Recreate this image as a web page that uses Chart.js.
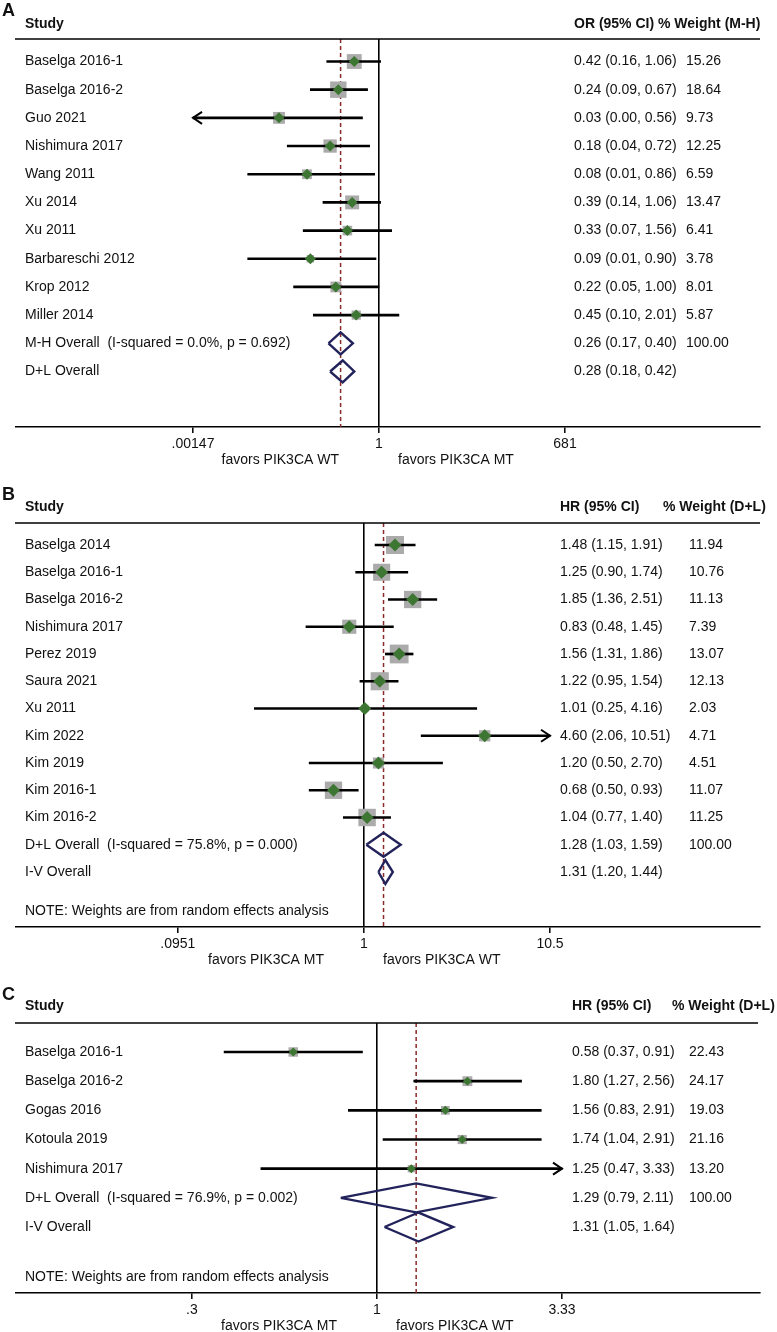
<!DOCTYPE html>
<html>
<head>
<meta charset="utf-8">
<script src="https://cdn.jsdelivr.net/npm/chart.js@4.4.1/dist/chart.umd.min.js"></script>
<style>
  html, body { margin: 0; padding: 0; background: #fff; }
  #wrap { position: relative; width: 777px; height: 1332px; overflow: hidden; }
  canvas { position: absolute; left: 0; }
</style>
</head>
<body>
<div id="wrap">
  <canvas id="chartA" width="777" height="470" style="top:0"></canvas>
  <canvas id="chartB" width="777" height="500" style="top:470px"></canvas>
  <canvas id="chartC" width="777" height="362" style="top:970px"></canvas>
</div>
<script>
// ---- Panel A: OR, PIK3CA MT vs WT ----
const studiesA = ['Baselga 2016-1', 'Baselga 2016-2', 'Guo 2021', 'Nishimura 2017', 'Wang 2011',
                  'Xu 2014', 'Xu 2011', 'Barbareschi 2012', 'Krop 2012', 'Miller 2014'];
const estA = [0.42, 0.24, 0.03, 0.18, 0.08, 0.39, 0.33, 0.09, 0.22, 0.45];
const lowA = [0.16, 0.09, 0.00, 0.04, 0.01, 0.14, 0.07, 0.01, 0.05, 0.10];
const highA = [1.06, 0.67, 0.56, 0.72, 0.86, 1.06, 1.56, 0.90, 1.00, 2.01];
const weightA = [15.26, 18.64, 9.73, 12.25, 6.59, 13.47, 6.41, 3.78, 8.01, 5.87];
const overallLabelsA = ['M-H Overall  (I-squared = 0.0%, p = 0.692)', 'D+L Overall'];
const overallEstA = [0.26, 0.28];
const overallLowA = [0.17, 0.18];
const overallHighA = [0.40, 0.42];
const overallWeightA = ['100.00', ''];
const ticksA = [0.00147, 1, 681];
const tickLabelsA = ['.00147', '1', '681'];

// ---- Panel B: HR ----
const studiesB = ['Baselga 2014', 'Baselga 2016-1', 'Baselga 2016-2', 'Nishimura 2017', 'Perez 2019',
                  'Saura 2021', 'Xu 2011', 'Kim 2022', 'Kim 2019', 'Kim 2016-1', 'Kim 2016-2'];
const estB = [1.48, 1.25, 1.85, 0.83, 1.56, 1.22, 1.01, 4.60, 1.20, 0.68, 1.04];
const lowB = [1.15, 0.90, 1.36, 0.48, 1.31, 0.95, 0.25, 2.06, 0.50, 0.50, 0.77];
const highB = [1.91, 1.74, 2.51, 1.45, 1.86, 1.54, 4.16, 10.51, 2.70, 0.93, 1.40];
const weightB = [11.94, 10.76, 11.13, 7.39, 13.07, 12.13, 2.03, 4.71, 4.51, 11.07, 11.25];
const overallLabelsB = ['D+L Overall  (I-squared = 75.8%, p = 0.000)', 'I-V Overall'];
const overallEstB = [1.28, 1.31];
const overallLowB = [1.03, 1.20];
const overallHighB = [1.59, 1.44];
const overallWeightB = ['100.00', ''];
const ticksB = [0.0951, 1, 10.5];
const tickLabelsB = ['.0951', '1', '10.5'];

// ---- Panel C: HR ----
const studiesC = ['Baselga 2016-1', 'Baselga 2016-2', 'Gogas 2016', 'Kotoula 2019', 'Nishimura 2017'];
const estC = [0.58, 1.80, 1.56, 1.74, 1.25];
const lowC = [0.37, 1.27, 0.83, 1.04, 0.47];
const highC = [0.91, 2.56, 2.91, 2.91, 3.33];
const weightC = [22.43, 24.17, 19.03, 21.16, 13.20];
const overallLabelsC = ['D+L Overall  (I-squared = 76.9%, p = 0.002)', 'I-V Overall'];
const overallEstC = [1.29, 1.31];
const overallLowC = [0.79, 1.05];
const overallHighC = [2.11, 1.64];
const overallWeightC = ['100.00', ''];
const ticksC = [0.3, 1, 3.33];
const tickLabelsC = ['.3', '1', '3.33'];

const FONT = "'Liberation Sans', Arial, Helvetica, sans-serif";
const GREEN = '#3d7632';
const GREY = '#ababab';
const NAVY = '#23235c';
const MAROON = '#8a2a2a';
const INK = '#111';
const AREA_L = 16, AREA_R = 760;

function fmt(v) { return v.toFixed(2); }

function forest(id, d, L) {
  const n = d.studies.length;
  const rows = d.studies.map((s, i) => i);
  const ppd = L.tickOff / Math.log10(d.ticks[2]);
  const xMin = Math.pow(10, (AREA_L - L.cx) / ppd);
  const xMax = Math.pow(10, (AREA_R - L.cx) / ppd);
  const yMin = -(L.firstRow - L.areaTop) / L.rowStep;
  const yMax = (L.areaBottom - L.firstRow) / L.rowStep;
  const tLo = d.ticks[0], tHi = d.ticks[d.ticks.length - 1];
  const dh = L.diaPx / L.rowStep;

  const datasets = [
    { // reference line at pooled estimate
      type: 'line', order: 6,
      data: [{ x: d.overEst[0], y: yMin }, { x: d.overEst[0], y: yMax }],
      borderColor: MAROON, borderWidth: 1.5, borderDash: [4, 3], pointRadius: 0
    },
    { // weight boxes
      type: 'scatter', order: 5,
      data: rows.map(i => ({ x: d.est[i], y: i })),
      pointStyle: 'rect',
      pointRadius: d.w.map(w => L.sqK * Math.sqrt(w) / Math.SQRT2),
      backgroundColor: GREY, borderWidth: 0
    },
    { // confidence intervals
      type: 'bar', order: 4, indexAxis: 'y',
      data: rows.map(i => ({ y: i, x: [Math.max(d.lo[i], tLo), Math.min(d.hi[i], tHi)] })),
      backgroundColor: '#000', barThickness: 2, borderWidth: 0
    },
    { // point estimates
      type: 'scatter', order: 3,
      data: rows.map(i => ({ x: d.est[i], y: i })),
      pointStyle: 'rectRot', pointRadius: L.dotR,
      backgroundColor: GREEN, borderWidth: 0
    }
  ];
  d.overEst.forEach((e, k) => {
    const r = n + k;
    datasets.push({
      type: 'line', order: 2,
      data: [{ x: d.overLo[k], y: r }, { x: e, y: r - dh }, { x: d.overHi[k], y: r },
             { x: e, y: r + dh }, { x: d.overLo[k], y: r }],
      borderColor: NAVY, borderWidth: 2.4, borderJoinStyle: 'miter',
      pointRadius: 0, fill: false, tension: 0
    });
  });

  const textPlugin = {
    id: 'forestText',
    afterDraw(chart) {
      const { ctx, chartArea: a, scales: { x, y } } = chart;
      ctx.save();
      // arrows where the CI leaves the axis range
      ctx.strokeStyle = '#000';
      ctx.lineWidth = 2;
      rows.forEach(i => {
        const py = y.getPixelForValue(i);
        const arrow = (px, dir) => {
          ctx.beginPath();
          ctx.moveTo(px + dir * 9, py - 6);
          ctx.lineTo(px, py);
          ctx.lineTo(px + dir * 9, py + 6);
          ctx.stroke();
        };
        if (d.lo[i] < tLo) arrow(x.getPixelForValue(tLo), 1);
        if (d.hi[i] >= tHi) arrow(x.getPixelForValue(tHi), -1);
      });

      // header line
      ctx.strokeStyle = '#000';
      ctx.lineWidth = 1.6;
      ctx.beginPath();
      ctx.moveTo(15, a.top);
      ctx.lineTo(L.headRight, a.top);
      ctx.stroke();

      ctx.fillStyle = INK;
      ctx.textBaseline = 'middle';
      ctx.textAlign = 'left';
      ctx.font = 'bold 18px ' + FONT;
      ctx.fillText(L.letter, 2, a.top - 28);
      ctx.font = 'bold 14px ' + FONT;
      ctx.fillText('Study', 25, a.top + L.headDy);
      ctx.fillText(d.headers[0], L.estX, a.top + L.headDy);
      ctx.fillText(d.headers[1], L.h2X, a.top + L.headDy);

      ctx.font = '14px ' + FONT;
      rows.forEach(i => {
        const py = y.getPixelForValue(i);
        ctx.fillText(d.studies[i], 25, py);
        ctx.fillText(fmt(d.est[i]) + ' (' + fmt(d.lo[i]) + ', ' + fmt(d.hi[i]) + ')', L.estX, py);
        ctx.fillText(fmt(d.w[i]), L.wX, py);
      });
      d.overEst.forEach((e, k) => {
        const py = y.getPixelForValue(n + k);
        ctx.fillText(d.overLabels[k], 25, py);
        ctx.fillText(fmt(e) + ' (' + fmt(d.overLo[k]) + ', ' + fmt(d.overHi[k]) + ')', L.estX, py);
        ctx.fillText(d.overW[k], L.wX, py);
      });
      if (d.note) ctx.fillText(d.note, 25, a.bottom - 16);

      const one = x.getPixelForValue(1);
      const fy = a.bottom + 33;
      ctx.textAlign = 'right';
      ctx.fillText(d.favors[0], one - 40, fy);
      ctx.textAlign = 'left';
      ctx.fillText(d.favors[1], one + 19, fy);
      ctx.restore();
    }
  };

  return new Chart(document.getElementById(id), {
    type: 'scatter',
    data: { datasets },
    options: {
      responsive: false,
      animation: false,
      events: [],
      layout: { padding: { top: L.areaTop, left: AREA_L, right: 777 - AREA_R, bottom: 0 } },
      plugins: { legend: { display: false }, tooltip: { enabled: false } },
      scales: {
        x: {
          type: 'logarithmic', min: xMin, max: xMax, bounds: 'data', offset: false, beginAtZero: false,
          afterBuildTicks: s => { s.ticks = d.ticks.map(v => ({ value: v })); },
          afterFit: s => { s.height = L.canvasH - L.areaBottom; },
          ticks: {
            autoSkip: false, maxRotation: 0, padding: 3, color: INK,
            font: { family: FONT, size: 14 },
            callback: (v, i) => d.tickLabels[i]
          },
          grid: {
            drawOnChartArea: true,
            color: c => (c.tick && c.tick.value === 1) ? '#000' : 'rgba(0,0,0,0)',
            lineWidth: 1.6, tickColor: '#000', tickLength: 6, tickWidth: 1.5
          },
          border: { display: true, color: '#000', width: 1.6 }
        },
        y: { type: 'linear', reverse: true, min: yMin, max: yMax, display: false, offset: false, bounds: 'data', grace: 0 }
      }
    },
    plugins: [textPlugin]
  });
}

forest('chartA', {
  studies: studiesA, est: estA, lo: lowA, hi: highA, w: weightA,
  overLabels: overallLabelsA, overEst: overallEstA, overLo: overallLowA, overHi: overallHighA, overW: overallWeightA,
  ticks: ticksA, tickLabels: tickLabelsA,
  headers: ['OR (95% CI)', '% Weight (M-H)'],
  favors: ['favors PIK3CA WT', 'favors PIK3CA MT'], note: null
}, { letter: 'A', canvasH: 470, areaTop: 39, areaBottom: 427, firstRow: 61.5, rowStep: 28.18,
     cx: 379, tickOff: 186, estX: 574, h2X: 658, wX: 686, headRight: 760, headDy: -15,
     sqK: 3.8, dotR: 5.5, diaPx: 11 });

forest('chartB', {
  studies: studiesB, est: estB, lo: lowB, hi: highB, w: weightB,
  overLabels: overallLabelsB, overEst: overallEstB, overLo: overallLowB, overHi: overallHighB, overW: overallWeightB,
  ticks: ticksB, tickLabels: tickLabelsB,
  headers: ['HR (95% CI)', '% Weight (D+L)'],
  favors: ['favors PIK3CA MT', 'favors PIK3CA WT'], note: 'NOTE: Weights are from random effects analysis'
}, { letter: 'B', canvasH: 500, areaTop: 53, areaBottom: 457, firstRow: 75, rowStep: 27.25,
     cx: 364, tickOff: 186, estX: 560, h2X: 663, wX: 689, headRight: 760, headDy: -16,
     sqK: 5.2, dotR: 6.5, diaPx: 12 });

forest('chartC', {
  studies: studiesC, est: estC, lo: lowC, hi: highC, w: weightC,
  overLabels: overallLabelsC, overEst: overallEstC, overLo: overallLowC, overHi: overallHighC, overW: overallWeightC,
  ticks: ticksC, tickLabels: tickLabelsC,
  headers: ['HR (95% CI)', '% Weight (D+L)'],
  favors: ['favors PIK3CA MT', 'favors PIK3CA WT'], note: 'NOTE: Weights are from random effects analysis'
}, { letter: 'C', canvasH: 362, areaTop: 53, areaBottom: 323, firstRow: 82, rowStep: 29.17,
     cx: 377, tickOff: 185, estX: 572, h2X: 672, wX: 689, headRight: 758, headDy: -17,
     sqK: 2.0, dotR: 4.5, diaPx: 14.5 });
</script>
</body>
</html>
